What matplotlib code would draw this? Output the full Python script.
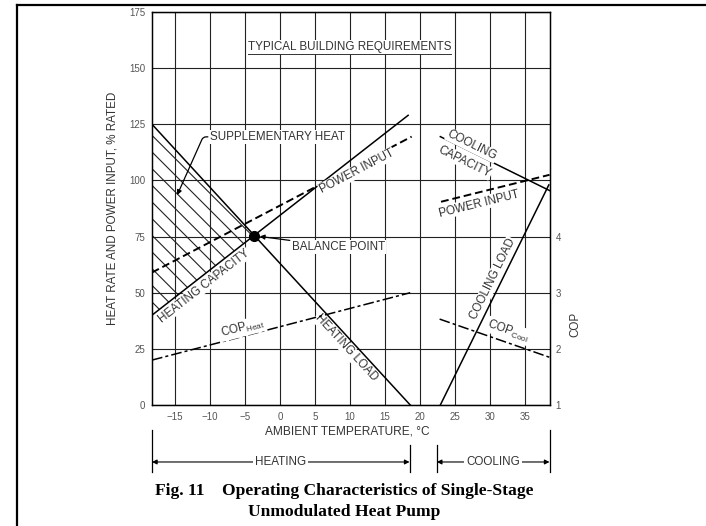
import numpy as np
import matplotlib
matplotlib.use('Agg')
import matplotlib.pyplot as plt
from matplotlib.lines import Line2D

plt.rcParams['font.family'] = ['Liberation Sans', 'DejaVu Sans']
plt.rcParams['mathtext.fontset'] = 'custom'
plt.rcParams['mathtext.rm'] = 'Liberation Sans'
plt.rcParams['hatch.linewidth'] = 0.8

# values (ambient temp degC -> % rated, COP)
x_ticks = [-15, -10, -5, 0, 5, 10, 15, 20, 25, 30, 35]
y_ticks = [0, 25, 50, 75, 100, 125, 150, 175]
cop_ticks = [1, 2, 3, 4]

heat_load_t = [-18.3, 18.6]
heat_load = [125, 0]
heat_cap_t = [-18.3, 18.3]
heat_cap = [40, 129]
heat_pwr_t = [-18.3, 18.8]
heat_pwr = [59, 119.5]
cop_heat_t = [-18.3, 18.6]
cop_heat = [1.8, 3.0]

cool_cap_t = [22.9, 38.5]
cool_cap = [119.5, 95.5]
cool_pwr_t = [23.0, 38.5]
cool_pwr = [90.5, 102.5]
cool_load_t = [22.9, 38.4]
cool_load = [0, 98]
cop_cool_t = [22.8, 38.5]
cop_cool = [2.53, 1.85]

balance_t, balance_v = -3.7, 75.4
heating_range = [-18.3, 18.5]
cooling_range = [22.4, 38.5]

TXT = '#333333'
FS = 8.4
white = dict(facecolor='white', edgecolor='none', pad=0.6)

fig = plt.figure(figsize=(7.06, 5.26), dpi=100)
ax = fig.add_axes([152 / 706, 1 - 405 / 526, 398 / 706, 393 / 526])
ax.set_xlim(-18.3, 38.57)
ax.set_ylim(0, 175)
ax.set_xticks(x_ticks)
ax.set_yticks(y_ticks)
ax.grid(True, color='#222222', lw=0.8)
ax.set_axisbelow(True)
ax.tick_params(length=0, labelsize=7, labelcolor='#555555', pad=5)
for s in ax.spines.values():
    s.set_linewidth(1.0)

ax2 = ax.twinx()
ax2.set_ylim(1, 8)
ax2.set_yticks(cop_ticks)
ax2.tick_params(length=0, labelsize=7, labelcolor='#555555', pad=4)

# supplementary heat hatch
xs = np.array([heat_load_t[0], balance_t])
ax.fill_between(xs, np.interp(xs, heat_cap_t, heat_cap), np.interp(xs, heat_load_t, heat_load),
                facecolor='none', edgecolor='#222222', hatch='\\\\', linewidth=0, zorder=1.5)

lw = 1.1
ax.plot(heat_load_t, heat_load, color='k', lw=lw)
ax.plot(heat_cap_t, heat_cap, color='k', lw=lw)
ax.plot(heat_pwr_t, heat_pwr, color='k', lw=1.4, ls=(0, (4, 2)))
ax.plot(cool_cap_t, cool_cap, color='k', lw=lw)
ax.plot(cool_pwr_t, cool_pwr, color='k', lw=1.4, ls=(0, (4, 2)))
ax.plot(cool_load_t, cool_load, color='k', lw=lw)
ax2.plot(cop_heat_t, cop_heat, color='k', lw=1.1, ls=(0, (7, 2, 2, 2)))
ax2.plot(cop_cool_t, cop_cool, color='k', lw=1.1, ls=(0, (7, 2, 2, 2)))
ax.plot([balance_t], [balance_v], 'o', color='k', ms=7, zorder=4)


def line_label(axis, text, x, y, tx, ty, **kw):
    ang = np.degrees(np.arctan2(ty[1] - ty[0], tx[1] - tx[0]))
    axis.text(x, y, text, rotation=ang, transform_rotates_text=True,
              rotation_mode='anchor', ha='center', va='center', fontsize=FS,
              color=TXT, bbox=white, **kw)


line_label(ax, 'HEATING CAPACITY', -10.9, 53.0, heat_cap_t, heat_cap)
line_label(ax, 'POWER INPUT', 11.0, 104.0, heat_pwr_t, heat_pwr)
line_label(ax, 'HEATING LOAD', 9.4, 25.5, heat_load_t, heat_load)
line_label(ax, 'COOLING', 27.4, 115.6, cool_cap_t, cool_cap)
line_label(ax, 'CAPACITY', 26.4, 108.4, cool_cap_t, cool_cap)
line_label(ax, 'POWER INPUT', 28.4, 89.6, cool_pwr_t, cool_pwr)
line_label(ax, 'COOLING LOAD', 30.4, 56.1, cool_load_t, cool_load)
line_label(ax2, r'COP$_{\mathregular{Heat}}$', -5.3, 2.37, cop_heat_t, cop_heat)
line_label(ax2, r'COP$_{\mathregular{Cool}}$', 32.6, 2.32, cop_cool_t, cop_cool)

tt = ax.text(9.9, 159.4, 'TYPICAL BUILDING REQUIREMENTS', ha='center', va='center',
             fontsize=FS, color=TXT, bbox=white)

ax.annotate('SUPPLEMENTARY HEAT', xy=(-14.7, 93.5), xytext=(-10.0, 119.4),
            ha='left', va='center', fontsize=FS, color=TXT, bbox=white,
            arrowprops=dict(arrowstyle='-|>', color='k', lw=0.9, mutation_scale=7,
                            connectionstyle='angle,angleA=180,angleB=66,rad=3',
                            shrinkA=1, shrinkB=0))
ax.annotate('BALANCE POINT', xy=(balance_t, balance_v), xytext=(1.7, 70.4),
            ha='left', va='center', fontsize=FS, color=TXT, bbox=white,
            arrowprops=dict(arrowstyle='-|>', color='k', lw=0.9, mutation_scale=7,
                            shrinkA=1, shrinkB=4))

ax.set_ylabel('HEAT RATE AND POWER INPUT, % RATED', fontsize=8.4, color=TXT)
ax.yaxis.set_label_coords(-0.085, 0.5)
ax.text(0.491, -0.0687, 'AMBIENT TEMPERATURE, \u00b0C', transform=ax.transAxes,
        ha='center', va='center', fontsize=8.6, color=TXT)
ax2.text(1.063, 0.204, 'COP', transform=ax2.transAxes, rotation=90,
         ha='center', va='center', fontsize=FS, color=TXT)

# heating / cooling spans
trans = ax.get_xaxis_transform()
y_arr = -0.145
for (a, b), name in [(heating_range, 'HEATING'), (cooling_range, 'COOLING')]:
    ax.annotate('', xy=(a, y_arr), xytext=(b, y_arr), xycoords=trans, textcoords=trans,
                annotation_clip=False,
                arrowprops=dict(arrowstyle='<|-|>', color='k', lw=0.8, mutation_scale=7,
                                shrinkA=0, shrinkB=0))
    ax.text((a + b) / 2, y_arr, name, transform=trans, ha='center', va='center',
            fontsize=FS, color=TXT, bbox=dict(facecolor='white', edgecolor='none', pad=1.5))
ax.plot([heating_range[0]] * 2, [-0.064, -0.17], transform=trans, color='k', lw=0.9, clip_on=False)
ax.plot([heating_range[1]] * 2, [-0.102, -0.17], transform=trans, color='k', lw=0.9, clip_on=False)
ax.plot([cooling_range[0]] * 2, [-0.102, -0.17], transform=trans, color='k', lw=0.9, clip_on=False)
ax.plot([cooling_range[1]] * 2, [-0.064, -0.17], transform=trans, color='k', lw=0.9, clip_on=False)

fig.text(0.488, 1 - 490.7 / 526, 'Fig. 11    Operating Characteristics of Single-Stage',
         family='Liberation Serif', weight='bold', fontsize=12.6, ha='center', va='center')
fig.text(0.488, 1 - 511.7 / 526, 'Unmodulated Heat Pump',
         family='Liberation Serif', weight='bold', fontsize=12.6, ha='center', va='center')

# outer frame
fig.add_artist(Line2D([17 / 706, 17 / 706], [0, 1 - 5 / 526], transform=fig.transFigure, color='k', lw=1.6))
fig.add_artist(Line2D([17 / 706, 1], [1 - 5 / 526] * 2, transform=fig.transFigure, color='k', lw=1.6))

# underline for the title text
fig.canvas.draw()
bb = tt.get_window_extent()
W, H = fig.get_size_inches() * fig.dpi
fig.add_artist(Line2D([bb.x0 / W, bb.x1 / W], [(bb.y0 - 1) / H] * 2, transform=fig.transFigure,
                      color=TXT, lw=0.7))

fig.savefig('out.png', dpi=100)
